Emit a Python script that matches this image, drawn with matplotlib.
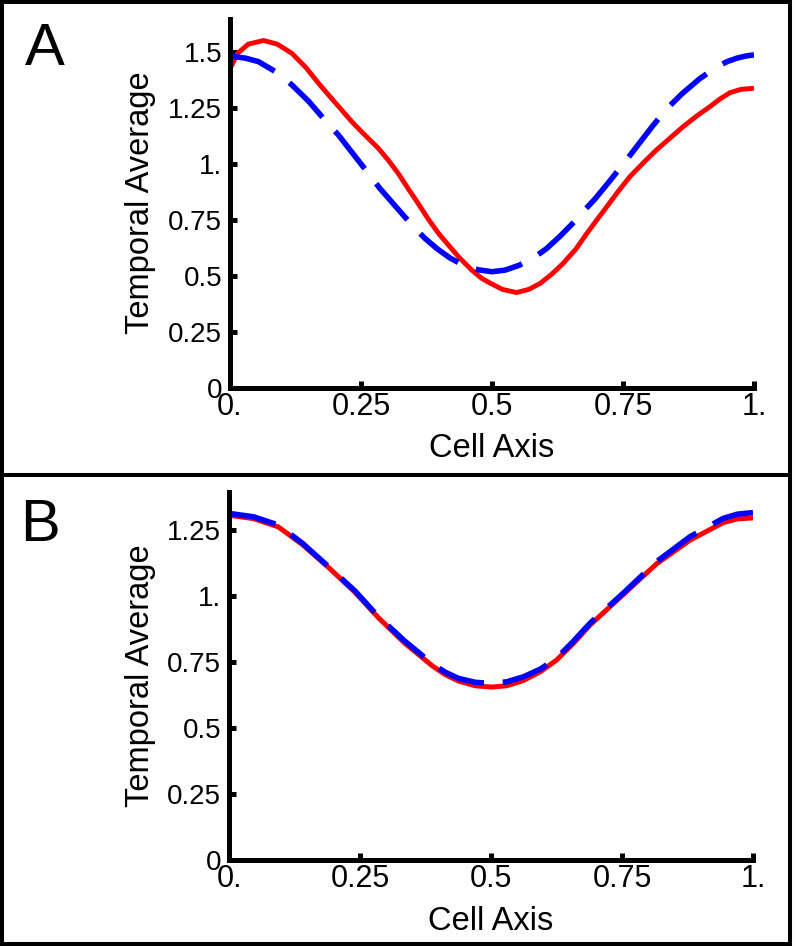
import matplotlib
matplotlib.use('Agg')
import matplotlib.pyplot as plt
from matplotlib.patches import Rectangle
from matplotlib.lines import Line2D

plt.rcParams['font.family'] = ['Liberation Sans', 'DejaVu Sans']

# ---------------- data ----------------
# Panel A
a_red_x = [0.000, 0.015, 0.035, 0.064, 0.090, 0.118, 0.145, 0.169, 0.191, 0.213,
           0.232, 0.251, 0.283, 0.302, 0.321, 0.340, 0.359, 0.378, 0.398, 0.418,
           0.436, 0.461, 0.480, 0.499, 0.520, 0.547, 0.570, 0.592, 0.614, 0.636,
           0.660, 0.681, 0.700, 0.719, 0.740, 0.763, 0.790, 0.814, 0.840, 0.865,
           0.890, 0.916, 0.935, 0.954, 0.975, 1.000]
a_red_y = [1.425, 1.495, 1.535, 1.551, 1.535, 1.494, 1.430, 1.360, 1.300, 1.241,
           1.190, 1.144, 1.070, 1.017, 0.958, 0.890, 0.824, 0.755, 0.690, 0.635,
           0.586, 0.527, 0.490, 0.465, 0.440, 0.426, 0.440, 0.467, 0.508, 0.557,
           0.620, 0.690, 0.750, 0.809, 0.875, 0.943, 1.008, 1.063, 1.116, 1.167,
           1.213, 1.256, 1.290, 1.318, 1.333, 1.338]

a_blue_x = [0.000, 0.030, 0.054, 0.092, 0.118, 0.150, 0.181, 0.207, 0.235, 0.264,
            0.286, 0.320, 0.350, 0.372, 0.395, 0.420, 0.448, 0.475, 0.500, 0.525,
            0.552, 0.580, 0.604, 0.630, 0.650, 0.668, 0.697, 0.725, 0.754, 0.776,
            0.805, 0.833, 0.862, 0.895, 0.929, 0.950, 0.967, 0.985, 1.000]
a_blue_y = [1.482, 1.472, 1.457, 1.405, 1.353, 1.280, 1.196, 1.129, 1.045, 0.958,
            0.891, 0.800, 0.720, 0.668, 0.622, 0.580, 0.545, 0.527, 0.519, 0.526,
            0.548, 0.582, 0.622, 0.678, 0.725, 0.772, 0.845, 0.925, 1.010, 1.077,
            1.165, 1.245, 1.312, 1.378, 1.434, 1.458, 1.472, 1.482, 1.487]

# Panel B
b_x = [0.000, 0.047, 0.094, 0.140, 0.190, 0.240, 0.285, 0.335, 0.387, 0.412,
       0.438, 0.470, 0.501, 0.530, 0.562, 0.594, 0.625, 0.657, 0.689, 0.752,
       0.816, 0.880, 0.943, 0.970, 1.000]
b_red_y = [1.306, 1.293, 1.262, 1.195, 1.108, 1.015, 0.918, 0.822, 0.737, 0.703,
           0.678, 0.660, 0.655, 0.660, 0.680, 0.713, 0.757, 0.820, 0.890, 1.005,
           1.122, 1.212, 1.278, 1.292, 1.296]
b_blue_y = [1.313, 1.300, 1.269, 1.200, 1.111, 1.020, 0.922, 0.830, 0.745, 0.712,
            0.688, 0.673, 0.669, 0.675, 0.694, 0.723, 0.764, 0.828, 0.897, 1.010,
            1.130, 1.225, 1.294, 1.310, 1.316]

x_ticks = [0, 0.25, 0.5, 0.75, 1.0]
x_ticklabels = ['0.', '0.25', '0.5', '0.75', '1.']
a_y_ticks = [0, 0.25, 0.5, 0.75, 1.0, 1.25, 1.5]
a_y_ticklabels = ['0', '0.25', '0.5', '0.75', '1.', '1.25', '1.5']
b_y_ticks = [0, 0.25, 0.5, 0.75, 1.0, 1.25]
b_y_ticklabels = ['0', '0.25', '0.5', '0.75', '1.', '1.25']

x_label = 'Cell Axis'
y_label = 'Temporal Average'

# ---------------- layout ----------------
W, H = 796, 946
fig = plt.figure(figsize=(W / 100, H / 100), dpi=100)


def fx(px):
    return px / W


def fy(py):
    return 1 - py / H


axA = fig.add_axes([fx(230), fy(388), (754 - 230) / W, (388 - 19) / H])
axB = fig.add_axes([fx(229), fy(860), (753 - 229) / W, (860 - 492) / H])

dash = (0, (8.6, 3.4))


def style(ax, ytop, yt, ytl):
    ax.set_xlim(0, 1)
    ax.set_ylim(0, ytop)
    for s in ['top', 'right']:
        ax.spines[s].set_visible(False)
    for s in ['left', 'bottom']:
        ax.spines[s].set_linewidth(3.6)
        ax.spines[s].set_capstyle('projecting')
    ax.set_xticks(x_ticks)
    ax.set_xticklabels(x_ticklabels, fontsize=22)
    ax.set_yticks(yt)
    ax.set_yticklabels(ytl, fontsize=20)
    ax.tick_params(axis='both', direction='in', length=5, width=3.6)
    ax.tick_params(axis='x', pad=3)
    ax.tick_params(axis='y', pad=5.5)


axA.plot(a_red_x, a_red_y, color='#ff0000', lw=3.5, solid_capstyle='butt',
         solid_joinstyle='round')
axA.plot(a_blue_x, a_blue_y, color='#0000ff', lw=4.0, linestyle=dash,
         dash_joinstyle='round')
style(axA, 1.647, a_y_ticks, a_y_ticklabels)

axB.plot(b_x, b_red_y, color='#ff0000', lw=3.6, solid_capstyle='butt',
         solid_joinstyle='round')
axB.plot(b_x, b_blue_y, color='#0000ff', lw=4.0, linestyle=dash,
         dash_joinstyle='round')
style(axB, 1.394, b_y_ticks, b_y_ticklabels)

# axis labels
fig.text(fx(492), fy(457), x_label, fontsize=23.5, ha='center', va='baseline')
fig.text(fx(491), fy(930), x_label, fontsize=23.5, ha='center', va='baseline')
fig.text(fx(141), fy(203), y_label, fontsize=23.5, rotation=90, ha='center', va='center')
fig.text(fx(141), fy(676), y_label, fontsize=23.5, rotation=90, ha='center', va='center')

# panel letters
fig.text(fx(25), fy(65), 'A', fontsize=43, ha='left', va='baseline')
fig.text(fx(20), fy(541), 'B', fontsize=43, ha='left', va='baseline')

# panel frames
fig.add_artist(Rectangle((fx(2), fy(944)), fx(790) - fx(2), fy(2) - fy(944),
                         transform=fig.transFigure, fill=False, lw=2.9,
                         edgecolor='black'))
fig.add_artist(Line2D([fx(2), fx(790)], [fy(475), fy(475)],
                      transform=fig.transFigure, lw=2.9, color='black'))

fig.savefig('out.png', dpi=100)
